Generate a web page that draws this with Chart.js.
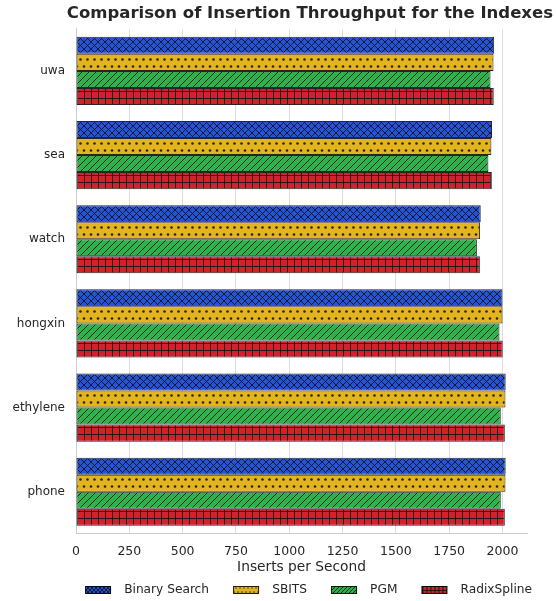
<!DOCTYPE html>
<html><head><meta charset="utf-8">
<script src="https://cdn.jsdelivr.net/npm/chart.js@4.4.1/dist/chart.umd.min.js"></script>
<style>html,body{margin:0;padding:0;background:#fff}#wrap{width:556px;height:601px}</style>
</head><body><div id="wrap"><canvas id="c" width="556" height="601"></canvas></div>
<script>
// ---- data ----
const categories = ['uwa', 'sea', 'watch', 'hongxin', 'ethylene', 'phone'];
const seriesNames = ['Binary Search', 'SBITS', 'PGM', 'RadixSpline'];
const binarySearch = [1961, 1951, 1898, 2000, 2015, 2015];
const sbits        = [1958, 1948, 1895, 2000, 2014, 2014];
const pgm          = [1944, 1934, 1880, 1986, 1992, 1992];
const radixSpline  = [1959, 1950, 1894, 2001, 2011, 2011];
const xTickStep = 250;
const xMax = 2115;
const titleText = 'Comparison of Insertion Throughput for the Indexes';
const xTitle = 'Inserts per Second';

// ---- styles ----
const colors = ['#2354d8', '#e2b41e', '#2db34a', '#d41f2c'];
const hatches = ['x', '.', '/', '+'];
const INK = 'rgba(20,20,20,0.9)';

function makeTile(bg, kind, s) {
  const c = document.createElement('canvas');
  const w = s, h = kind === '.' ? 2 * s : s;
  c.width = w; c.height = h;
  const g = c.getContext('2d');
  g.fillStyle = bg; g.fillRect(0, 0, w, h);
  g.strokeStyle = INK; g.fillStyle = INK; g.lineWidth = 1;
  if (kind === 'x') {
    g.beginPath();
    for (let k = -1; k <= 1; k++) {
      g.moveTo(k * s, 0); g.lineTo(k * s + s, s);
      g.moveTo(k * s, s); g.lineTo(k * s + s, 0);
    }
    g.stroke();
  } else if (kind === '/') {
    g.beginPath();
    for (let k = -1; k <= 1; k++) { g.moveTo(k * s, s); g.lineTo(k * s + s, 0); }
    g.stroke();
  } else if (kind === '+') {
    g.fillRect(0, 0, w, 1); g.fillRect(0, 0, 1, h);
  } else if (kind === '.') {
    const r = s / 5.5;
    const pts = [[s / 2, s / 2], [0, s * 1.5], [s, s * 1.5]];
    pts.forEach(p => { g.beginPath(); g.arc(p[0], p[1], r, 0, Math.PI * 2); g.fill(); });
  }
  return c;
}
const tileCtx = document.createElement('canvas').getContext('2d');
const barPatterns = colors.map((c, i) => tileCtx.createPattern(makeTile(c, hatches[i], 7), 'repeat'));

// legend marker images: transparent lead-in, then a 26x8 hatched box
const LEG_W = 36, LEG_OFF = 3;
function legendImage(i) {
  const c = document.createElement('canvas');
  c.width = LEG_W; c.height = 8;
  const g = c.getContext('2d');
  g.fillStyle = g.createPattern(makeTile(colors[i], hatches[i], 4), 'repeat');
  g.fillRect(LEG_OFF, 0, 26, 8);
  g.strokeStyle = 'rgba(0,0,0,0.85)'; g.lineWidth = 1;
  g.strokeRect(LEG_OFF + 0.5, 0.5, 25, 7);
  return c;
}
const legendImgs = colors.map((c, i) => legendImage(i));

const seriesValues = [binarySearch, sbits, pgm, radixSpline];
const datasets = seriesNames.map((name, i) => ({
  label: name,
  data: seriesValues[i],
  backgroundColor: barPatterns[i],
  borderColor: 'rgba(0,0,0,0.85)',
  borderWidth: 1,
  borderSkipped: false,
  barPercentage: 1.0,
  categoryPercentage: 0.81
}));

Chart.defaults.font.family = "'DejaVu Sans', sans-serif";
Chart.defaults.color = '#262626';

new Chart(document.getElementById('c'), {
  type: 'bar',
  data: { labels: categories, datasets },
  options: {
    indexAxis: 'y',
    responsive: false,
    animation: false,
    layout: { padding: { left: 0, right: 3, top: 0, bottom: -5 } },
    plugins: {
      title: {
        display: true, text: titleText, color: '#262626', align: 'end',
        font: { size: 16.5, weight: 'bold' },
        padding: { top: 4, bottom: 5 }
      },
      legend: {
        position: 'bottom', align: 'end',
        labels: {
          usePointStyle: true, pointStyleWidth: LEG_W, padding: 21,
          font: { size: 12.2 }, color: '#262626',
          generateLabels(chart) {
            const items = Chart.defaults.plugins.legend.labels.generateLabels(chart);
            items.forEach((it, i) => { it.pointStyle = legendImgs[i]; });
            return items;
          }
        }
      },
      tooltip: { enabled: false }
    },
    scales: {
      x: {
        type: 'linear', min: 0, max: xMax,
        ticks: { stepSize: xTickStep, includeBounds: false, padding: 10, font: { size: 12.5 }, color: '#262626',
                 callback: v => String(v) },
        grid: { color: '#dddddd', drawTicks: false, lineWidth: 1 },
        border: { display: true, color: '#cccccc' },
        title: { display: true, text: xTitle, font: { size: 13.75 }, color: '#262626', padding: { top: 0, bottom: -12.5 } },
        afterFit(s) { s.height = 29; }
      },
      y: {
        type: 'category',
        grid: { display: false, drawTicks: false },
        border: { display: true, color: '#cccccc' },
        ticks: { padding: 11, font: { size: 12 }, color: '#262626' },
        afterFit(s) { s.width = 76; }
      },
      y2: {
        type: 'linear', position: 'right', display: true,
        grid: { display: false, drawTicks: false },
        border: { display: false },
        ticks: { display: false },
        afterFit(s) { s.width = 26; }
      }
    }
  }
});
</script>
</body></html>
